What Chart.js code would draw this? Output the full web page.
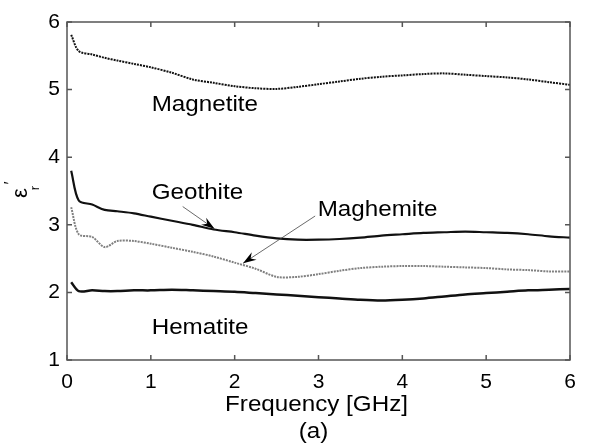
<!DOCTYPE html>
<html>
<head>
<meta charset="utf-8">
<script src="https://cdn.jsdelivr.net/npm/chart.js@4/dist/chart.umd.min.js"></script>
<style>
  html, body { margin: 0; padding: 0; background: #fff; }
  #wrap { width: 589px; height: 443px; }
</style>
</head>
<body>
<div id="wrap"><canvas id="epsChart"></canvas></div>
<script>
// frequency points [GHz]
const freq = [0.05, 0.14, 0.3, 0.45, 0.6, 0.8, 1.0, 1.25, 1.5, 1.75, 2.0, 2.25, 2.5, 2.75,
  3.0, 3.25, 3.5, 3.75, 4.0, 4.25, 4.5, 4.75, 5.0, 5.25, 5.5, 5.75, 6.0];

// real permittivity per sample
const magnetite = [5.81, 5.57, 5.52, 5.47, 5.43, 5.38, 5.33, 5.25, 5.15, 5.10, 5.05, 5.02, 5.01, 5.04,
  5.08, 5.12, 5.16, 5.19, 5.21, 5.23, 5.24, 5.22, 5.20, 5.18, 5.15, 5.11, 5.07];
const geothite = [3.80, 3.36, 3.30, 3.22, 3.20, 3.17, 3.12, 3.06, 3.00, 2.93, 2.89, 2.84, 2.80, 2.78,
  2.78, 2.79, 2.81, 2.84, 2.86, 2.88, 2.89, 2.90, 2.89, 2.88, 2.86, 2.83, 2.81];
const maghemite = [3.26, 2.86, 2.82, 2.67, 2.76, 2.76, 2.72, 2.66, 2.60, 2.53, 2.44, 2.35, 2.23, 2.23,
  2.27, 2.32, 2.36, 2.38, 2.39, 2.39, 2.38, 2.37, 2.36, 2.34, 2.33, 2.31, 2.31];
const hematite = [2.15, 2.02, 2.03, 2.02, 2.02, 2.03, 2.03, 2.04, 2.03, 2.02, 2.01, 1.99, 1.97, 1.95,
  1.93, 1.91, 1.89, 1.88, 1.89, 1.91, 1.94, 1.97, 1.99, 2.01, 2.03, 2.04, 2.05];

const xTicks = [0, 1, 2, 3, 4, 5, 6];
const yTicks = [1, 2, 3, 4, 5, 6];

// text labels (left edge, baseline) and arrows, in data units
const labels = [
  { text: 'Magnetite', x: 1.01, y: 4.68 },
  { text: 'Geothite', x: 1.01, y: 3.38 },
  { text: 'Maghemite', x: 2.99, y: 3.13 },
  { text: 'Hematite', x: 1.01, y: 1.38 }
];
const arrows = [
  { from: [1.38, 3.27], to: [1.76, 2.94] },
  { from: [2.96, 3.13], to: [2.10, 2.43] }
];
const xTitle = ['Frequency [GHz]', '(a)'];

const FONT = '"Liberation Sans", Arial, sans-serif';
const STRETCH = 1.1;

const pts = vals => freq.map((f, i) => ({ x: f, y: vals[i] }));

// text drawn slightly wide
function wideText(ctx, str, x, y, align) {
  ctx.save();
  ctx.translate(x, y);
  ctx.scale(STRETCH, 1);
  ctx.textAlign = align;
  ctx.fillText(str, 0, 0);
  ctx.restore();
}

// box, inward ticks, labels, arrows, axis titles
const decor = {
  id: 'decor',
  afterDatasetsDraw(chart) {
    const { ctx, chartArea: a, scales: { x, y } } = chart;
    ctx.save();
    ctx.strokeStyle = '#555';
    ctx.lineWidth = 1.5;
    ctx.strokeRect(a.left, a.top, a.right - a.left, a.bottom - a.top);
    ctx.beginPath();
    xTicks.forEach(v => {
      const px = x.getPixelForValue(v);
      ctx.moveTo(px, a.bottom); ctx.lineTo(px, a.bottom - 5);
      ctx.moveTo(px, a.top); ctx.lineTo(px, a.top + 5);
    });
    yTicks.forEach(v => {
      const py = y.getPixelForValue(v);
      ctx.moveTo(a.left, py); ctx.lineTo(a.left + 5, py);
      ctx.moveTo(a.right, py); ctx.lineTo(a.right - 5, py);
    });
    ctx.stroke();

    ctx.fillStyle = '#000';
    ctx.font = '22px ' + FONT;
    ctx.textBaseline = 'alphabetic';
    labels.forEach(l => wideText(ctx, l.text, x.getPixelForValue(l.x), y.getPixelForValue(l.y), 'left'));

    const cx = (a.left + a.right) / 2;
    wideText(ctx, xTitle[0], cx - 2, 411, 'center');
    wideText(ctx, xTitle[1], cx - 5, 438, 'center');

    arrows.forEach(ar => {
      const x0 = x.getPixelForValue(ar.from[0]), y0 = y.getPixelForValue(ar.from[1]);
      const x1 = x.getPixelForValue(ar.to[0]), y1 = y.getPixelForValue(ar.to[1]);
      const ang = Math.atan2(y1 - y0, x1 - x0);
      ctx.strokeStyle = '#444';
      ctx.lineWidth = 0.8;
      ctx.beginPath(); ctx.moveTo(x0, y0); ctx.lineTo(x1, y1); ctx.stroke();
      ctx.beginPath();
      ctx.moveTo(x1, y1);
      ctx.lineTo(x1 - 14 * Math.cos(ang - 0.32), y1 - 14 * Math.sin(ang - 0.32));
      ctx.lineTo(x1 - 9 * Math.cos(ang), y1 - 9 * Math.sin(ang));
      ctx.lineTo(x1 - 14 * Math.cos(ang + 0.32), y1 - 14 * Math.sin(ang + 0.32));
      ctx.closePath();
      ctx.fill();
    });

    // epsilon'_r rotated
    ctx.translate(21, 193);
    ctx.rotate(-Math.PI / 2);
    ctx.textBaseline = 'middle';
    ctx.textAlign = 'center';
    ctx.font = '22px ' + FONT;
    ctx.fillText('\u03B5', 0, 0);
    ctx.font = '16px ' + FONT;
    ctx.fillText('\u2032', 10, -9);
    ctx.font = '13px ' + FONT;
    ctx.fillText('r', 5, 14);
    ctx.restore();
  }
};

new Chart(document.getElementById('epsChart'), {
  type: 'line',
  data: {
    datasets: [
      { label: 'Magnetite', data: pts(magnetite), borderColor: '#111', borderWidth: 2, borderDash: [2, 1] },
      { label: 'Geothite', data: pts(geothite), borderColor: '#111', borderWidth: 2.2 },
      { label: 'Maghemite', data: pts(maghemite), borderColor: '#808080', borderWidth: 2, borderDash: [2, 1] },
      { label: 'Hematite', data: pts(hematite), borderColor: '#111', borderWidth: 2.5 }
    ]
  },
  options: {
    responsive: true,
    maintainAspectRatio: false,
    animation: false,
    layout: { padding: { top: 22, right: 19, left: 0, bottom: 0 } },
    elements: { point: { radius: 0 }, line: { tension: 0.3, fill: false } },
    plugins: { legend: { display: false }, tooltip: { enabled: false } },
    scales: {
      x: {
        type: 'linear', min: 0, max: 6,
        grid: { display: false, drawTicks: false },
        border: { display: false },
        afterBuildTicks: s => { s.ticks = xTicks.map(v => ({ value: v })); },
        afterFit: s => { s.height = 83; },
        ticks: { color: '#000', font: { size: 21, family: FONT }, padding: 10, maxRotation: 0 }
      },
      y: {
        type: 'linear', min: 1, max: 6,
        grid: { display: false, drawTicks: false },
        border: { display: false },
        afterBuildTicks: s => { s.ticks = yTicks.map(v => ({ value: v })); },
        afterFit: s => { s.width = 67; },
        ticks: { color: '#000', font: { size: 21, family: FONT }, padding: 7 }
      }
    }
  },
  plugins: [decor]
});
</script>
</body>
</html>
